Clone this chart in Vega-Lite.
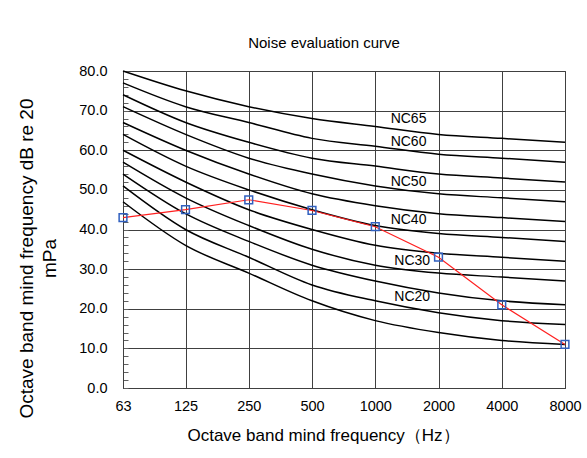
{
  "$schema": "https://vega.github.io/schema/vega-lite/v6.json",
  "width": 442,
  "height": 317,
  "autosize": "none",
  "padding": {"left": 123, "top": 71, "right": 22, "bottom": 70},
  "background": "white",
  "config": {
    "font": "Liberation Sans",
    "view": {"stroke": "#404040", "strokeWidth": 1}
  },
  "title": {
    "text": "Noise evaluation curve",
    "fontSize": 15,
    "fontWeight": "normal",
    "color": "#000000",
    "anchor": "middle",
    "dx": -20,
    "offset": 12
  },
  "datasets": {
    "curves": [
      {"nc": "NC15", "f": 63, "v": 47}, {"nc": "NC15", "f": 125, "v": 36}, {"nc": "NC15", "f": 250, "v": 29}, {"nc": "NC15", "f": 500, "v": 22}, {"nc": "NC15", "f": 1000, "v": 17}, {"nc": "NC15", "f": 2000, "v": 14}, {"nc": "NC15", "f": 4000, "v": 12}, {"nc": "NC15", "f": 8000, "v": 11},
      {"nc": "NC20", "f": 63, "v": 51}, {"nc": "NC20", "f": 125, "v": 40}, {"nc": "NC20", "f": 250, "v": 33}, {"nc": "NC20", "f": 500, "v": 26}, {"nc": "NC20", "f": 1000, "v": 22}, {"nc": "NC20", "f": 2000, "v": 19}, {"nc": "NC20", "f": 4000, "v": 17}, {"nc": "NC20", "f": 8000, "v": 16},
      {"nc": "NC25", "f": 63, "v": 54}, {"nc": "NC25", "f": 125, "v": 44}, {"nc": "NC25", "f": 250, "v": 37}, {"nc": "NC25", "f": 500, "v": 31}, {"nc": "NC25", "f": 1000, "v": 27}, {"nc": "NC25", "f": 2000, "v": 24}, {"nc": "NC25", "f": 4000, "v": 22}, {"nc": "NC25", "f": 8000, "v": 21},
      {"nc": "NC30", "f": 63, "v": 57}, {"nc": "NC30", "f": 125, "v": 48}, {"nc": "NC30", "f": 250, "v": 41}, {"nc": "NC30", "f": 500, "v": 35}, {"nc": "NC30", "f": 1000, "v": 31}, {"nc": "NC30", "f": 2000, "v": 29}, {"nc": "NC30", "f": 4000, "v": 28}, {"nc": "NC30", "f": 8000, "v": 27},
      {"nc": "NC35", "f": 63, "v": 60}, {"nc": "NC35", "f": 125, "v": 52}, {"nc": "NC35", "f": 250, "v": 45}, {"nc": "NC35", "f": 500, "v": 40}, {"nc": "NC35", "f": 1000, "v": 36}, {"nc": "NC35", "f": 2000, "v": 34}, {"nc": "NC35", "f": 4000, "v": 33}, {"nc": "NC35", "f": 8000, "v": 32},
      {"nc": "NC40", "f": 63, "v": 64}, {"nc": "NC40", "f": 125, "v": 56}, {"nc": "NC40", "f": 250, "v": 50}, {"nc": "NC40", "f": 500, "v": 45}, {"nc": "NC40", "f": 1000, "v": 41}, {"nc": "NC40", "f": 2000, "v": 39}, {"nc": "NC40", "f": 4000, "v": 38}, {"nc": "NC40", "f": 8000, "v": 37},
      {"nc": "NC45", "f": 63, "v": 67}, {"nc": "NC45", "f": 125, "v": 60}, {"nc": "NC45", "f": 250, "v": 54}, {"nc": "NC45", "f": 500, "v": 49}, {"nc": "NC45", "f": 1000, "v": 46}, {"nc": "NC45", "f": 2000, "v": 44}, {"nc": "NC45", "f": 4000, "v": 43}, {"nc": "NC45", "f": 8000, "v": 42},
      {"nc": "NC50", "f": 63, "v": 71}, {"nc": "NC50", "f": 125, "v": 64}, {"nc": "NC50", "f": 250, "v": 58}, {"nc": "NC50", "f": 500, "v": 54}, {"nc": "NC50", "f": 1000, "v": 51}, {"nc": "NC50", "f": 2000, "v": 49}, {"nc": "NC50", "f": 4000, "v": 48}, {"nc": "NC50", "f": 8000, "v": 47},
      {"nc": "NC55", "f": 63, "v": 74}, {"nc": "NC55", "f": 125, "v": 67}, {"nc": "NC55", "f": 250, "v": 62}, {"nc": "NC55", "f": 500, "v": 58}, {"nc": "NC55", "f": 1000, "v": 56}, {"nc": "NC55", "f": 2000, "v": 54}, {"nc": "NC55", "f": 4000, "v": 53}, {"nc": "NC55", "f": 8000, "v": 52},
      {"nc": "NC60", "f": 63, "v": 77}, {"nc": "NC60", "f": 125, "v": 71}, {"nc": "NC60", "f": 250, "v": 67}, {"nc": "NC60", "f": 500, "v": 63}, {"nc": "NC60", "f": 1000, "v": 61}, {"nc": "NC60", "f": 2000, "v": 59}, {"nc": "NC60", "f": 4000, "v": 58}, {"nc": "NC60", "f": 8000, "v": 57},
      {"nc": "NC65", "f": 63, "v": 80}, {"nc": "NC65", "f": 125, "v": 75}, {"nc": "NC65", "f": 250, "v": 71}, {"nc": "NC65", "f": 500, "v": 68}, {"nc": "NC65", "f": 1000, "v": 66}, {"nc": "NC65", "f": 2000, "v": 64}, {"nc": "NC65", "f": 4000, "v": 63}, {"nc": "NC65", "f": 8000, "v": 62}
    ],
    "measured": [
      {"f": 63, "v": 43}, {"f": 125, "v": 45}, {"f": 250, "v": 47.5}, {"f": 500, "v": 44.8},
      {"f": 1000, "v": 40.7}, {"f": 2000, "v": 33}, {"f": 4000, "v": 21}, {"f": 8000, "v": 11}
    ],
    "labels": [
      {"label": "NC65", "f": 1440, "v": 67.8},
      {"label": "NC60", "f": 1440, "v": 62},
      {"label": "NC50", "f": 1440, "v": 52.1},
      {"label": "NC40", "f": 1440, "v": 42.5},
      {"label": "NC30", "f": 1500, "v": 32},
      {"label": "NC20", "f": 1500, "v": 22.9}
    ]
  },
  "encoding": {
    "x": {
      "field": "f",
      "type": "quantitative",
      "scale": {"type": "log", "domain": [63, 8000], "nice": false},
      "axis": {
        "values": [63, 125, 250, 500, 1000, 2000, 4000, 8000],
        "format": "d",
        "title": "Octave band mind frequency（Hz）",
        "titleFontSize": 17,
        "titleFontWeight": "normal",
        "titleColor": "#000000",
        "titlePadding": 15,
        "titleX": 200,
        "labelFontSize": 14.5,
        "labelColor": "#000000",
        "labelPadding": 11,
        "labelFlush": false,
        "labelOverlap": false,
        "ticks": false,
        "domainColor": "#404040",
        "gridColor": "#404040",
        "gridOpacity": 1
      }
    },
    "y": {
      "field": "v",
      "type": "quantitative",
      "scale": {"domain": [0, 80], "nice": false},
      "axis": {
        "values": [0, 2, 4, 6, 8, 10, 12, 14, 16, 18, 20, 22, 24, 26, 28, 30, 32, 34, 36, 38, 40, 42, 44, 46, 48, 50, 52, 54, 56, 58, 60, 62, 64, 66, 68, 70, 72, 74, 76, 78, 80],
        "labelExpr": "datum.value % 10 === 0 ? format(datum.value, '.1f') : ''",
        "title": ["Octave band mind frequency dB re 20", "mPa"],
        "titleFontSize": 19,
        "titleLineHeight": 23,
        "titleFontWeight": "normal",
        "titleColor": "#000000",
        "titlePadding": 19,
        "titleY": 187,
        "labelFontSize": 14.5,
        "labelColor": "#000000",
        "labelPadding": 21,
        "labelOverlap": false,
        "labelFlush": false,
        "tickSize": -5,
        "tickColor": "#606060",
        "domainColor": "#404040",
        "gridColor": "#404040",
        "gridOpacity": {"condition": {"test": "datum.value % 10 === 0", "value": 1}, "value": 0}
      }
    }
  },
  "layer": [
    {
      "data": {"name": "curves"},
      "mark": {"type": "line", "interpolate": "monotone", "color": "#000000", "strokeWidth": 1.5},
      "encoding": {"detail": {"field": "nc", "type": "nominal"}}
    },
    {
      "data": {"name": "measured"},
      "mark": {"type": "line", "color": "#FF2020", "strokeWidth": 1.2},
      "encoding": {}
    },
    {
      "data": {"name": "measured"},
      "mark": {"type": "point", "shape": "square", "size": 60, "filled": false, "stroke": "#3060C0", "strokeWidth": 1.5, "opacity": 1},
      "encoding": {}
    },
    {
      "data": {"name": "labels"},
      "mark": {"type": "text", "fontSize": 14, "color": "#000000", "align": "center", "baseline": "middle"},
      "encoding": {"text": {"field": "label", "type": "nominal"}}
    }
  ]
}
